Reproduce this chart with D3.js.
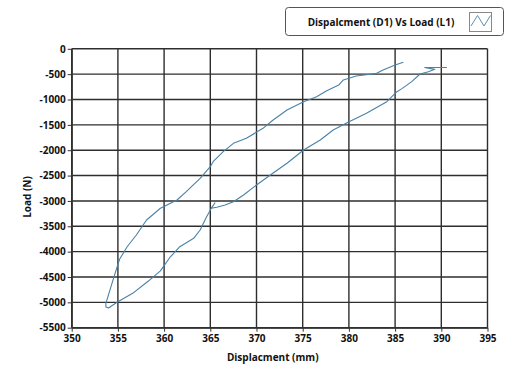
<!DOCTYPE html>
<html><head><meta charset="utf-8">
<script src="https://cdn.jsdelivr.net/npm/d3@7"></script>
<style>
html,body{margin:0;padding:0;background:#fff;}
svg{display:block;font-family:"Open Sans",sans-serif;}
</style></head>
<body><svg id="c" width="528" height="371"></svg>
<script>
const xTicks = [350,355,360,365,370,375,380,385,390,395];
const yTicks = [0,-500,-1000,-1500,-2000,-2500,-3000,-3500,-4000,-4500,-5000,-5500];
const seriesName = "Dispalcment (D1) Vs Load (L1)";
const xTitle = "Displacment (mm)";
const yTitle = "Load (N)";
const displacement = [
385.9,385.0,383.7,383.0,382.3,380.8,379.4,378.9,377.6,376.5,375.1,373.3,371.8,370.7,368.9,367.5,366.4,365.3,365.0,363.9,
362.4,361.4,359.6,358.1,357.0,356.0,355.2,355.0,354.4,353.7,353.7,354.0,354.3,355.0,
356.6,358.3,359.6,360.6,361.7,363.2,363.9,364.6,365.2,365.5,365.1,365.7,366.6,367.5,368.6,370.0,371.5,373.3,375.1,376.9,
378.3,379.8,381.9,384.1,385.2,385.7,386.8,387.7,388.6,389.3,388.2,390.6
];
const load = [
-266,-319,-420,-484,-503,-537,-615,-714,-826,-944,-1043,-1207,-1404,-1568,-1765,-1864,-2029,-2226,-2325,-2554,
-2818,-2982,-3145,-3376,-3672,-3903,-4145,-4250,-4600,-5019,-5092,-5111,-5072,-4987,
-4822,-4580,-4380,-4120,-3903,-3737,-3573,-3311,-3114,-3040,-3146,-3126,-3080,-3015,-2883,-2686,-2489,-2258,-1996,-1798,
-1601,-1457,-1272,-1043,-846,-790,-648,-497,-451,-405,-370,-370
];

const svg = d3.select("#c");
const L = 71.7, R = 487.5, T = 48.8, B = 327.7;
const x = d3.scaleLinear().domain([350,395]).range([L,R]);
const y = d3.scaleLinear().domain([0,-5500]).range([T,B]);
const gridColor = "#2e2e2e";

// grid
svg.append("g").selectAll("line").data(xTicks).join("line")
  .attr("x1",d=>x(d)).attr("x2",d=>x(d)).attr("y1",T).attr("y2",B)
  .attr("stroke",gridColor).attr("stroke-width",1.4);
svg.append("g").selectAll("line").data(yTicks).join("line")
  .attr("x1",L).attr("x2",R).attr("y1",d=>y(d)).attr("y2",d=>y(d))
  .attr("stroke",gridColor).attr("stroke-width",1.4);

// axes
const fmt = d => String(d);
const xa = svg.append("g").attr("transform",`translate(0,${B})`)
  .call(d3.axisBottom(x).tickValues(xTicks).tickFormat(fmt).tickSize(4).tickPadding(3).tickSizeOuter(0));
const ya = svg.append("g").attr("transform",`translate(${L},0)`)
  .call(d3.axisLeft(y).tickValues(yTicks).tickFormat(fmt).tickSize(4).tickPadding(2).tickSizeOuter(0));
[xa,ya].forEach(a=>{
  a.select(".domain").attr("stroke","#333").attr("stroke-width",1.3);
  a.selectAll(".tick line").attr("stroke","#333");
  a.selectAll("text").attr("fill","#111").attr("font-size",10).attr("font-weight",700)
   .attr("font-family","'Open Sans',sans-serif");
});

// titles
svg.append("text").attr("x",272.7).attr("y",361).attr("text-anchor","middle")
  .attr("font-size",10).attr("font-weight",700).attr("fill","#111").text(xTitle);
svg.append("text").attr("transform","translate(31,197) rotate(-90)").attr("text-anchor","middle")
  .attr("font-size",10).attr("font-weight",700).attr("fill","#111").text(yTitle);

// series
const pts = displacement.map((d,i)=>[d,load[i]]);
svg.append("path").datum(pts)
  .attr("fill","none").attr("stroke","#4a82a6").attr("stroke-width",1.1)
  .attr("stroke-linejoin","round")
  .attr("d",d3.line().x(d=>x(d[0])).y(d=>y(d[1])));

// legend
const lg = svg.append("g");
lg.append("rect").attr("x",285.5).attr("y",7.5).attr("width",218).attr("height",28).attr("rx",3)
  .attr("fill","#fff").attr("stroke","#555").attr("stroke-width",1);
lg.append("text").attr("x",381).attr("y",25.5).attr("text-anchor","middle")
  .attr("font-size",10).attr("font-weight",700).attr("fill","#111").text(seriesName);
lg.append("rect").attr("x",469.5).attr("y",12.5).attr("width",22).attr("height",19)
  .attr("fill","#fff").attr("stroke","#888").attr("stroke-width",1);
const iconX = [0,1,2,3], iconY = [0,1,0,1];
const ix = d3.scaleLinear().domain([0,3]).range([471,490.5]);
const iy = d3.scaleLinear().domain([0,1]).range([26,15.5]);
lg.append("path").datum(iconX.map((d,i)=>[d,iconY[i]]))
  .attr("fill","none").attr("stroke","#5a8fb3").attr("stroke-width",1)
  .attr("d",d3.line().x(d=>x && ix(d[0])).y(d=>iy(d[1])));
</script></body></html>
